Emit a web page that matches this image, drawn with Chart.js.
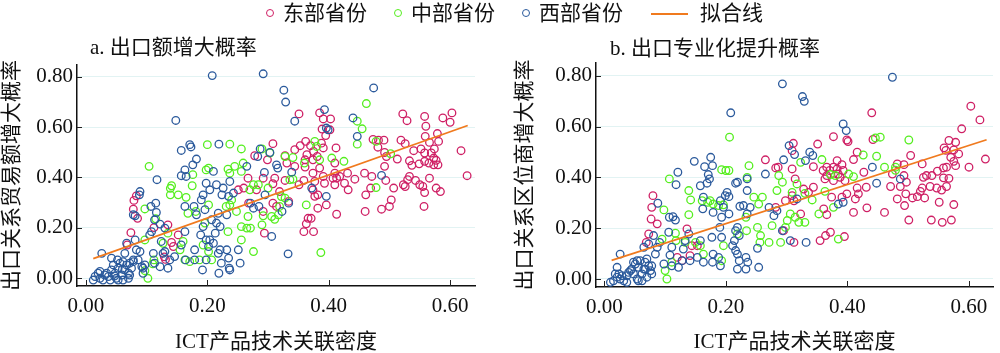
<!DOCTYPE html>
<html>
<head>
<meta charset="utf-8">
<script src="https://cdn.jsdelivr.net/npm/chart.js@4.4.1/dist/chart.umd.min.js"></script>
<style>
  body { margin: 0; background: #fff; }
  #wrap { position: relative; width: 1000px; height: 353px; overflow: hidden; font-family: 'Liberation Serif', 'Noto Sans CJK SC', serif; color: #111; }
  canvas { position: absolute; top: 0; }
  .txt { position: absolute; font-size: 21px; line-height: 21px; white-space: nowrap; }
  .dot { position: absolute; width: 6px; height: 6px; border-radius: 50%; border: 1.6px solid; }
  .ln { position: absolute; height: 2px; background: #f07a1e; }
</style>
</head>
<body>
<div id="wrap">
  <canvas id="chartA" width="500" height="353" style="left:0"></canvas>
  <canvas id="chartB" width="500" height="353" style="left:500px"></canvas>

  <span class="dot" style="left:266px;top:9px;border-color:#cf2065"></span>
  <span class="txt" style="left:283px;top:3px">东部省份</span>
  <span class="dot" style="left:394px;top:9px;border-color:#55ee1f"></span>
  <span class="txt" style="left:411px;top:3px">中部省份</span>
  <span class="dot" style="left:522px;top:9px;border-color:#2b5a9c"></span>
  <span class="txt" style="left:539px;top:3px">西部省份</span>
  <span class="ln" style="left:651px;top:13px;width:37px"></span>
  <span class="txt" style="left:700px;top:3px">拟合线</span>

  <span class="txt" style="left:90px;top:37px">a. 出口额增大概率</span>
  <span class="txt" style="left:610px;top:38px">b. 出口专业化提升概率</span>
</div>
<script>
var colors = { east: '#cf2065', central: '#55ee1f', west: '#2b5a9c', fit: '#f07a1e' };
var groupNames = ['东部省份', '中部省份', '西部省份', '拟合线'];
var xTicks = [0, 0.2, 0.4, 0.6];
var yTicks = [0, 0.2, 0.4, 0.6, 0.8];
var xTitle = 'ICT产品技术关联密度';
var yTitleA = '出口关系贸易额增大概率';
var yTitleB = '出口关系区位商增大概率';

// panel a: [关联密度, 概率]
var eastA = [[0.083,0.327],[0.079,0.309],[0.078,0.274],[0.085,0.238],[0.074,0.181],[0.068,0.132],[0.112,0.201],[0.135,0.212],[0.152,0.172],[0.141,0.142],[0.144,0.126],[0.131,0.075],[0.129,0.085],
  [0.351,0.652],[0.385,0.656],[0.391,0.632],[0.403,0.632],[0.389,0.592],[0.402,0.589],[0.395,0.566],[0.388,0.536],[0.391,0.517],[0.308,0.534],[0.362,0.543],[0.353,0.526],[0.370,0.526],[0.344,0.510],[0.375,0.503],[0.364,0.490],[0.381,0.483],[0.374,0.470],[0.361,0.470],[0.328,0.486],[0.278,0.486],[0.299,0.470],[0.331,0.457],[0.344,0.444],[0.361,0.441],[0.385,0.437],[0.374,0.417],[0.391,0.404],[0.407,0.397],[0.410,0.371],[0.410,0.417],[0.393,0.377],[0.377,0.384],[0.359,0.388],[0.351,0.371],[0.328,0.388],[0.319,0.344],[0.308,0.375],[0.311,0.397],[0.292,0.397],[0.267,0.397],[0.260,0.358],[0.268,0.298],[0.308,0.298],[0.314,0.285],[0.292,0.265],[0.334,0.305],[0.374,0.351],[0.377,0.325],[0.396,0.291],[0.382,0.278],[0.371,0.238],[0.366,0.238],[0.363,0.216],[0.375,0.185],[0.359,0.185],[0.294,0.179],[0.281,0.351],[0.251,0.351],[0.382,0.331],
  [0.522,0.652],[0.529,0.625],[0.558,0.642],[0.560,0.603],[0.588,0.636],[0.603,0.656],[0.600,0.619],[0.473,0.551],[0.482,0.548],[0.491,0.548],[0.481,0.520],[0.492,0.499],[0.495,0.483],[0.492,0.444],[0.519,0.548],[0.526,0.534],[0.559,0.563],[0.566,0.539],[0.579,0.574],[0.581,0.543],[0.540,0.506],[0.552,0.513],[0.558,0.497],[0.569,0.497],[0.574,0.513],[0.573,0.477],[0.577,0.468],[0.580,0.450],[0.573,0.450],[0.565,0.457],[0.558,0.464],[0.549,0.454],[0.537,0.448],[0.533,0.466],[0.513,0.473],[0.618,0.506],[0.628,0.407],[0.566,0.397],[0.533,0.404],[0.530,0.391],[0.543,0.388],[0.550,0.371],[0.555,0.364],[0.526,0.364],[0.523,0.371],[0.507,0.358],[0.494,0.388],[0.471,0.404],[0.459,0.417],[0.443,0.393],[0.431,0.417],[0.426,0.377],[0.432,0.351],[0.418,0.404],[0.413,0.397],[0.412,0.517],[0.410,0.457],[0.469,0.358],[0.461,0.331],[0.558,0.340],[0.577,0.358],[0.584,0.344],[0.503,0.311],[0.500,0.285],[0.487,0.274],[0.460,0.265],[0.557,0.285],[0.413,0.254]];
var centralA = [[0.104,0.444],[0.141,0.367],[0.139,0.357],[0.139,0.331],[0.152,0.331],[0.165,0.321],[0.176,0.411],[0.175,0.367],[0.198,0.430],[0.200,0.530],[0.097,0.275],[0.115,0.236],[0.135,0.179],[0.160,0.146],[0.155,0.113],[0.163,0.073],[0.171,0.066],[0.097,0.152],[0.112,0.073],[0.110,0.057],[0.102,0.000],[0.097,0.030],[0.196,0.219],[0.193,0.132],[0.187,0.073],[0.168,0.258],[0.181,0.265],[0.127,0.139],
  [0.237,0.532],[0.256,0.513],[0.245,0.444],[0.234,0.433],[0.237,0.417],[0.256,0.424],[0.259,0.457],[0.202,0.437],[0.202,0.291],[0.240,0.311],[0.248,0.265],[0.237,0.291],[0.231,0.285],[0.284,0.371],[0.270,0.351],[0.276,0.371],[0.300,0.358],[0.306,0.245],[0.311,0.234],[0.317,0.252],[0.322,0.324],[0.328,0.318],[0.319,0.285],[0.292,0.248],[0.267,0.245],[0.256,0.205],[0.265,0.199],[0.271,0.199],[0.234,0.185],[0.256,0.152],[0.276,0.106],[0.290,0.212],[0.328,0.483],[0.341,0.479],[0.360,0.457],[0.377,0.543],[0.380,0.523],[0.385,0.470],[0.405,0.477],[0.336,0.391],[0.341,0.393],[0.363,0.291],[0.387,0.102],[0.303,0.497],[0.290,0.513],[0.207,0.073],[0.202,0.106],
  [0.462,0.693],[0.447,0.623],[0.455,0.593],[0.447,0.532],[0.478,0.543],[0.502,0.494],[0.425,0.464],[0.478,0.360]];
var westA = [[0.012,-0.007],[0.015,0.007],[0.020,0.020],[0.023,0.000],[0.023,0.027],[0.026,0.099],[0.028,-0.007],[0.031,0.013],[0.034,0.020],[0.037,0.007],[0.040,-0.007],[0.042,0.033],[0.042,0.080],[0.045,0.053],[0.047,0.009],[0.048,0.020],[0.050,0.000],[0.052,0.073],[0.053,0.040],[0.053,-0.007],[0.056,0.060],[0.059,0.013],[0.060,0.036],[0.061,-0.007],[0.061,0.066],[0.064,0.033],[0.064,0.099],[0.067,0.053],[0.067,0.139],[0.070,0.020],[0.070,0.000],[0.072,0.060],[0.072,0.013],[0.075,0.040],[0.078,0.073],[0.078,0.066],[0.081,0.152],[0.083,0.113],[0.086,0.073],[0.089,0.106],[0.092,0.046],[0.094,0.020],[0.097,0.053],[0.094,0.040],
  [0.148,0.626],[0.157,0.507],[0.171,0.530],[0.173,0.521],[0.182,0.473],[0.176,0.450],[0.163,0.430],[0.157,0.407],[0.165,0.404],[0.117,0.391],[0.089,0.344],[0.088,0.331],[0.081,0.248],[0.078,0.252],[0.107,0.285],[0.115,0.298],[0.116,0.261],[0.113,0.232],[0.122,0.215],[0.130,0.199],[0.108,0.185],[0.105,0.172],[0.163,0.285],[0.178,0.285],[0.182,0.252],[0.190,0.311],[0.193,0.331],[0.198,0.377],[0.196,0.272],[0.193,0.205],[0.189,0.172],[0.198,0.152],[0.163,0.185],[0.157,0.132],[0.164,0.073],[0.146,0.086],[0.124,0.146],[0.127,0.099],[0.130,0.106],[0.111,0.099],[0.113,0.060],[0.122,0.046],[0.135,0.040],[0.138,0.073],[0.179,0.113],[0.179,0.073],[0.192,0.033],[0.198,0.073],
  [0.208,0.804],[0.292,0.811],[0.326,0.746],[0.329,0.699],[0.344,0.623],[0.393,0.669],[0.399,0.589],[0.396,0.596],[0.219,0.532],[0.287,0.513],[0.283,0.483],[0.303,0.499],[0.265,0.444],[0.314,0.450],[0.316,0.437],[0.294,0.420],[0.339,0.421],[0.210,0.424],[0.204,0.351],[0.215,0.371],[0.226,0.358],[0.237,0.384],[0.224,0.331],[0.235,0.325],[0.243,0.338],[0.295,0.331],[0.276,0.278],[0.285,0.285],[0.271,0.298],[0.323,0.265],[0.334,0.298],[0.372,0.358],[0.396,0.325],[0.218,0.258],[0.232,0.252],[0.207,0.232],[0.215,0.219],[0.221,0.205],[0.213,0.179],[0.204,0.152],[0.210,0.139],[0.202,0.126],[0.221,0.113],[0.218,0.099],[0.232,0.113],[0.251,0.113],[0.235,0.080],[0.223,0.060],[0.236,0.040],[0.219,0.020],[0.237,0.033],[0.254,0.060],[0.306,0.166],[0.333,0.097],
  [0.474,0.755],[0.440,0.636],[0.447,0.563],[0.487,0.408]];
var fitA = [[0.012,0.078],[0.629,0.606]];

// panel b
var eastB = [[0.080,0.328],[0.078,0.282],[0.077,0.236],[0.087,0.217],[0.073,0.177],[0.069,0.144],[0.136,0.197],[0.144,0.131],[0.153,0.131],[0.141,0.092],[0.128,0.072],[0.120,0.085],
  [0.311,0.534],[0.351,0.531],[0.377,0.560],[0.399,0.547],[0.401,0.541],[0.309,0.505],[0.344,0.442],[0.360,0.427],[0.366,0.440],[0.371,0.427],[0.377,0.440],[0.383,0.433],[0.385,0.413],[0.391,0.450],[0.393,0.427],[0.388,0.400],[0.396,0.387],[0.377,0.387],[0.363,0.394],[0.366,0.407],[0.383,0.466],[0.265,0.469],[0.282,0.437],[0.286,0.440],[0.309,0.433],[0.314,0.394],[0.328,0.354],[0.344,0.361],[0.336,0.341],[0.309,0.328],[0.298,0.308],[0.312,0.308],[0.323,0.256],[0.361,0.276],[0.366,0.253],[0.374,0.322],[0.391,0.322],[0.399,0.335],[0.282,0.282],[0.295,0.190],[0.312,0.144],[0.355,0.151],[0.364,0.171],[0.372,0.184],[0.395,0.167],
  [0.440,0.654],[0.442,0.549],[0.603,0.680],[0.618,0.626],[0.588,0.591],[0.567,0.545],[0.578,0.538],[0.559,0.516],[0.562,0.506],[0.575,0.508],[0.583,0.492],[0.570,0.479],[0.575,0.463],[0.627,0.472],[0.600,0.440],[0.578,0.446],[0.563,0.440],[0.558,0.437],[0.558,0.398],[0.567,0.396],[0.548,0.424],[0.539,0.407],[0.530,0.407],[0.525,0.400],[0.536,0.364],[0.547,0.358],[0.555,0.350],[0.563,0.364],[0.551,0.302],[0.575,0.293],[0.523,0.358],[0.520,0.345],[0.515,0.324],[0.507,0.319],[0.527,0.319],[0.504,0.486],[0.523,0.453],[0.493,0.450],[0.482,0.453],[0.474,0.413],[0.493,0.407],[0.497,0.381],[0.487,0.364],[0.471,0.364],[0.496,0.335],[0.482,0.315],[0.494,0.289],[0.501,0.232],[0.538,0.232],[0.556,0.223],[0.571,0.232],[0.461,0.262],[0.432,0.280],[0.410,0.262],[0.413,0.315],[0.418,0.335],[0.431,0.361],[0.416,0.358],[0.427,0.420],[0.416,0.499],[0.410,0.470]];
var centralB = [[0.107,0.394],[0.139,0.348],[0.142,0.311],[0.139,0.253],[0.098,0.272],[0.117,0.180],[0.118,0.151],[0.095,0.157],[0.193,0.430],[0.200,0.427],[0.206,0.558],[0.174,0.308],[0.179,0.295],[0.188,0.289],[0.196,0.292],[0.170,0.302],[0.161,0.308],[0.150,0.144],[0.158,0.131],[0.163,0.098],[0.133,0.144],[0.111,0.066],[0.100,0.033],[0.103,0.000],[0.196,0.131],[0.193,0.072],
  [0.238,0.446],[0.235,0.400],[0.205,0.427],[0.246,0.322],[0.260,0.322],[0.254,0.295],[0.233,0.243],[0.234,0.190],[0.252,0.203],[0.257,0.171],[0.256,0.144],[0.271,0.144],[0.290,0.144],[0.276,0.210],[0.284,0.348],[0.287,0.407],[0.293,0.381],[0.309,0.341],[0.317,0.374],[0.330,0.337],[0.342,0.311],[0.323,0.459],[0.358,0.470],[0.372,0.411],[0.380,0.407],[0.402,0.413],[0.363,0.345],[0.353,0.256],[0.377,0.282],[0.385,0.157],[0.306,0.256],[0.314,0.243],[0.320,0.223],[0.330,0.223],[0.298,0.203],[0.301,0.230],[0.219,0.177],
  [0.446,0.555],[0.454,0.558],[0.501,0.547],[0.426,0.488],[0.448,0.483],[0.461,0.440],[0.479,0.440],[0.479,0.428],[0.410,0.403]];
var westB = [[0.010,-0.013],[0.015,-0.007],[0.021,0.007],[0.024,0.020],[0.026,0.000],[0.032,-0.007],[0.037,0.013],[0.040,0.026],[0.045,0.039],[0.048,0.020],[0.051,0.059],[0.054,0.000],[0.056,0.046],[0.059,0.072],[0.062,0.020],[0.065,0.039],[0.067,0.066],[0.070,0.007],[0.073,0.052],[0.076,0.033],[0.078,0.020],[0.070,0.079],[0.054,0.072],[0.048,0.066],[0.043,0.033],[0.026,0.098],[0.021,0.046],[0.018,0.020],[0.056,-0.007],[0.062,-0.007],[0.037,-0.013],[0.029,0.013],[0.067,0.039],[0.078,0.052],
  [0.148,0.463],[0.165,0.442],[0.175,0.479],[0.178,0.446],[0.171,0.411],[0.173,0.394],[0.169,0.377],[0.158,0.367],[0.121,0.420],[0.118,0.371],[0.088,0.298],[0.107,0.243],[0.113,0.245],[0.117,0.232],[0.106,0.184],[0.139,0.177],[0.163,0.322],[0.162,0.276],[0.179,0.262],[0.193,0.243],[0.196,0.282],[0.199,0.328],[0.191,0.308],[0.190,0.203],[0.193,0.164],[0.177,0.164],[0.158,0.151],[0.133,0.151],[0.130,0.118],[0.111,0.125],[0.108,0.094],[0.091,0.144],[0.087,0.125],[0.084,0.098],[0.098,0.059],[0.111,0.052],[0.122,0.046],[0.128,0.072],[0.141,0.072],[0.153,0.085],[0.163,0.066],[0.179,0.098],[0.178,0.066],[0.188,0.085],[0.191,0.052],[0.073,0.138],[0.065,0.125],[0.081,0.171],
  [0.293,0.768],[0.326,0.718],[0.329,0.699],[0.208,0.654],[0.393,0.610],[0.398,0.584],[0.304,0.525],[0.313,0.490],[0.338,0.499],[0.343,0.486],[0.331,0.466],[0.295,0.469],[0.265,0.413],[0.219,0.381],[0.216,0.377],[0.235,0.394],[0.235,0.348],[0.205,0.324],[0.202,0.341],[0.223,0.286],[0.229,0.289],[0.240,0.282],[0.205,0.256],[0.235,0.256],[0.219,0.203],[0.216,0.190],[0.222,0.171],[0.214,0.151],[0.211,0.131],[0.216,0.112],[0.219,0.098],[0.222,0.072],[0.219,0.039],[0.233,0.085],[0.236,0.066],[0.233,0.039],[0.252,0.121],[0.254,0.046],[0.284,0.269],[0.279,0.249],[0.293,0.190],[0.306,0.151],[0.332,0.144],[0.317,0.315],[0.385,0.295],[0.393,0.302],[0.271,0.282],
  [0.474,0.794],[0.441,0.440],[0.448,0.377],[0.487,0.394]];
var fitB = [[0.012,0.073],[0.629,0.548]];

var fontFamily = "'Liberation Serif', 'Noto Sans CJK SC', serif";

function toPoints(list) {
  return list.map(function(p) { return { x: p[0], y: p[1] }; });
}

function scatterSet(label, list, color, order) {
  return {
    label: label,
    data: toPoints(list),
    order: order,
    pointStyle: 'circle',
    pointRadius: 3.8,
    pointBorderWidth: 1.3,
    pointBackgroundColor: 'rgba(0,0,0,0)',
    pointBorderColor: color,
    borderColor: color,
    showLine: false
  };
}

// tick marks drawn inside the plot, as in the original
var insideTicks = {
  id: 'insideTicks',
  afterDraw: function(chart) {
    var ctx = chart.ctx, area = chart.chartArea;
    ctx.save();
    ctx.strokeStyle = '#222';
    ctx.lineWidth = 1;
    ctx.beginPath();
    chart.scales.x.ticks.forEach(function(t) {
      var px = Math.round(chart.scales.x.getPixelForValue(t.value)) + 0.5;
      ctx.moveTo(px, area.bottom);
      ctx.lineTo(px, area.bottom - 6);
    });
    chart.scales.y.ticks.forEach(function(t) {
      var py = Math.round(chart.scales.y.getPixelForValue(t.value)) + 0.5;
      ctx.moveTo(area.left, py);
      ctx.lineTo(area.left + 5, py);
    });
    ctx.stroke();
    ctx.restore();
  }
};

function makeChart(id, opts) {
  var datasets = [
    scatterSet(groupNames[0], opts.east, colors.east, 3),
    scatterSet(groupNames[1], opts.central, colors.central, 2),
    scatterSet(groupNames[2], opts.west, colors.west, 1),
    {
      label: groupNames[3],
      data: toPoints(opts.fit),
      order: 0,
      showLine: true,
      borderColor: colors.fit,
      borderWidth: 1.8,
      pointRadius: 0
    }
  ];
  return new Chart(document.getElementById(id).getContext('2d'), {
    type: 'scatter',
    data: { datasets: datasets },
    plugins: [insideTicks],
    options: {
      responsive: false,
      animation: false,
      devicePixelRatio: 1,
      layout: { padding: opts.padding },
      plugins: { legend: { display: false }, tooltip: { enabled: false } },
      scales: {
        x: {
          type: 'linear',
          min: opts.xMin,
          max: opts.xMax,
          afterBuildTicks: function(s) { s.ticks = xTicks.map(function(v) { return { value: v }; }); },
          afterFit: function(s) { s.height = opts.xHeight; },
          grid: { display: false, drawTicks: false },
          border: { display: true, color: '#111', width: 1.5 },
          ticks: {
            padding: 8,
            color: '#111',
            font: { family: fontFamily, size: 21 },
            callback: function(v) { return v.toFixed(2); }
          },
          title: {
            display: true,
            text: xTitle,
            color: '#111',
            padding: { top: 0, bottom: 0 },
            font: { family: fontFamily, size: 21, lineHeight: 1 }
          }
        },
        y: {
          type: 'linear',
          min: opts.yMin,
          max: opts.yMax,
          afterBuildTicks: function(s) { s.ticks = yTicks.map(function(v) { return { value: v }; }); },
          afterFit: function(s) { s.width = opts.yWidth; },
          grid: { color: '#e2f3f3', lineWidth: 1, drawTicks: false },
          border: { display: true, color: '#111', width: 1.5 },
          ticks: {
            padding: 4,
            color: '#111',
            font: { family: fontFamily, size: 21 },
            callback: function(v) { return v.toFixed(2); }
          },
          title: {
            display: true,
            text: opts.yTitle,
            color: '#111',
            padding: { top: opts.yTitlePad, bottom: 0 },
            font: { family: fontFamily, size: 21, lineHeight: 1 }
          }
        }
      }
    }
  });
}

makeChart('chartA', {
  east: eastA, central: centralA, west: westA, fit: fitA, yTitle: yTitleA,
  xMin: -0.0148, xMax: 0.641, yMin: -0.0306, yMax: 0.846,
  padding: { top: 65, right: 25, left: 0, bottom: 0 },
  yWidth: 77, xHeight: 67, yTitlePad: 1.5
});
makeChart('chartB', {
  east: eastB, central: centralB, west: westB, fit: fitB, yTitle: yTitleB,
  xMin: -0.0137, xMax: 0.6395, yMin: -0.0315, yMax: 0.850,
  padding: { top: 63, right: 7, left: 12, bottom: 0 },
  yWidth: 84, xHeight: 66, yTitlePad: 2.5
});
</script>
</body>
</html>
